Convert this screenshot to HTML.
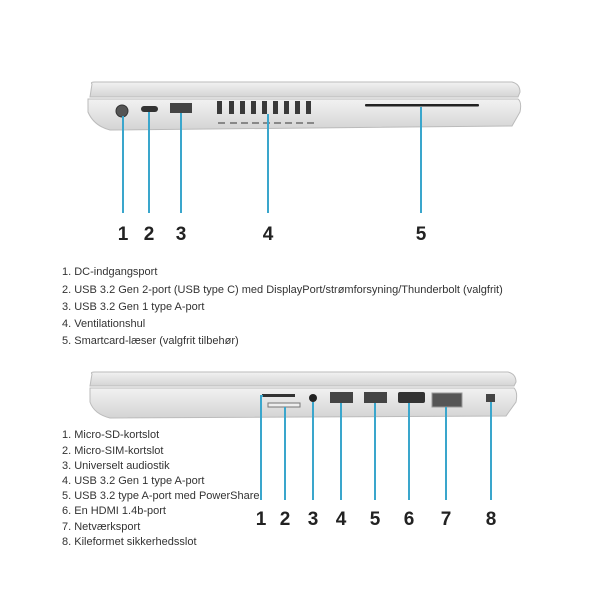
<!DOCTYPE html>
<html><head><meta charset="utf-8"><style>
body{margin:0;background:#fff;width:600px;height:600px;overflow:hidden;position:relative;font-family:"Liberation Sans",sans-serif}
.t{position:absolute;left:62px;font-size:11px;color:#333;white-space:nowrap}
.n{position:absolute;font-size:19px;font-weight:bold;color:#222;transform:translateX(-50%)}
</style></head><body>
<svg width="600" height="600" style="position:absolute;left:0;top:0">
<defs><linearGradient id="g" x1="0" y1="0" x2="0" y2="1"><stop offset="0" stop-color="#f2f2f2"/><stop offset="1" stop-color="#d4d4d4"/></linearGradient></defs>
<path d="M92 84 Q90 82 95 82 L512 82 Q520 84 520 92 L518 97 L90 97 Z" fill="url(#g)" stroke="#bbb"/>
<path d="M88 99 L518 99 Q522 102 520 112 L512 126 L110 130 Q94 126 88 112 Z" fill="url(#g)" stroke="#bbb"/>
<circle cx="122" cy="111" r="6" fill="#555" stroke="#333"/>
<rect x="141" y="106" width="17" height="6" rx="3" fill="#333"/>
<rect x="170" y="103" width="22" height="10" fill="#444"/>
<g fill="#3a3a3a">
<rect x="217" y="101" width="5" height="13"/><rect x="229" y="101" width="5" height="13"/><rect x="240" y="101" width="5" height="13"/><rect x="251" y="101" width="5" height="13"/><rect x="262" y="101" width="5" height="13"/><rect x="273" y="101" width="5" height="13"/><rect x="284" y="101" width="5" height="13"/><rect x="295" y="101" width="5" height="13"/><rect x="306" y="101" width="5" height="13"/>
</g>
<g fill="#888"><rect x="218" y="122" width="7" height="2"/><rect x="230" y="122" width="7" height="2"/><rect x="241" y="122" width="7" height="2"/><rect x="252" y="122" width="7" height="2"/><rect x="263" y="122" width="7" height="2"/><rect x="274" y="122" width="7" height="2"/><rect x="285" y="122" width="7" height="2"/><rect x="296" y="122" width="7" height="2"/><rect x="307" y="122" width="7" height="2"/></g>
<rect x="365" y="104" width="114" height="2.5" rx="1" fill="#222"/>
<g stroke="#3aa6cc" stroke-width="2">
<line x1="123" y1="116" x2="123" y2="213"/><line x1="149" y1="112" x2="149" y2="213"/><line x1="181" y1="113" x2="181" y2="213"/><line x1="268" y1="114" x2="268" y2="213"/><line x1="421" y1="107" x2="421" y2="213"/>
</g>
<path d="M92 374 Q90 372 95 372 L508 372 Q516 374 516 382 L514 386 L90 386 Z" fill="url(#g)" stroke="#bbb"/>
<path d="M90 388 L514 388 Q518 392 516 402 L506 416 L110 418 Q94 414 90 402 Z" fill="url(#g)" stroke="#bbb"/>
<rect x="262" y="394" width="33" height="3" fill="#333"/>
<rect x="268" y="403" width="32" height="4" fill="#eee" stroke="#777"/>
<circle cx="313" cy="398" r="4" fill="#222"/>
<rect x="330" y="392" width="23" height="11" fill="#444"/>
<rect x="364" y="392" width="23" height="11" fill="#444"/>
<rect x="398" y="392" width="27" height="11" rx="2" fill="#333"/>
<rect x="432" y="393" width="30" height="14" fill="#555" stroke="#999"/>
<rect x="486" y="394" width="9" height="8" fill="#444"/>
<g stroke="#3aa6cc" stroke-width="2">
<polyline points="261,500 261,396 263,396" fill="none"/><line x1="285" y1="407" x2="285" y2="500"/><line x1="313" y1="402" x2="313" y2="500"/><line x1="341" y1="403" x2="341" y2="500"/><line x1="375" y1="403" x2="375" y2="500"/><line x1="409" y1="403" x2="409" y2="500"/><line x1="446" y1="407" x2="446" y2="500"/><line x1="491" y1="402" x2="491" y2="500"/>
</g>
</svg>
<div class="n" style="left:123px;top:224px">1</div><div class="n" style="left:149px;top:224px">2</div><div class="n" style="left:181px;top:224px">3</div><div class="n" style="left:268px;top:224px">4</div><div class="n" style="left:421px;top:224px">5</div>
<div class="t" style="top:266px">1. DC-indgangsport</div>
<div class="t" style="top:284px">2. USB 3.2 Gen 2-port (USB type C) med DisplayPort/strømforsyning/Thunderbolt (valgfrit)</div>
<div class="t" style="top:301px">3. USB 3.2 Gen 1 type A-port</div>
<div class="t" style="top:318px">4. Ventilationshul</div>
<div class="t" style="top:335px">5. Smartcard-læser (valgfrit tilbehør)</div>
<div class="t" style="top:429px">1. Micro-SD-kortslot</div>
<div class="t" style="top:445px">2. Micro-SIM-kortslot</div>
<div class="t" style="top:460px">3. Universelt audiostik</div>
<div class="t" style="top:475px">4. USB 3.2 Gen 1 type A-port</div>
<div class="t" style="top:490px">5. USB 3.2 type A-port med PowerShare</div>
<div class="t" style="top:505px">6. En HDMI 1.4b-port</div>
<div class="t" style="top:521px">7. Netværksport</div>
<div class="t" style="top:536px">8. Kileformet sikkerhedsslot</div>
<div class="n" style="left:261px;top:509px">1</div><div class="n" style="left:285px;top:509px">2</div><div class="n" style="left:313px;top:509px">3</div><div class="n" style="left:341px;top:509px">4</div><div class="n" style="left:375px;top:509px">5</div><div class="n" style="left:409px;top:509px">6</div><div class="n" style="left:446px;top:509px">7</div><div class="n" style="left:491px;top:509px">8</div>
</body></html>
